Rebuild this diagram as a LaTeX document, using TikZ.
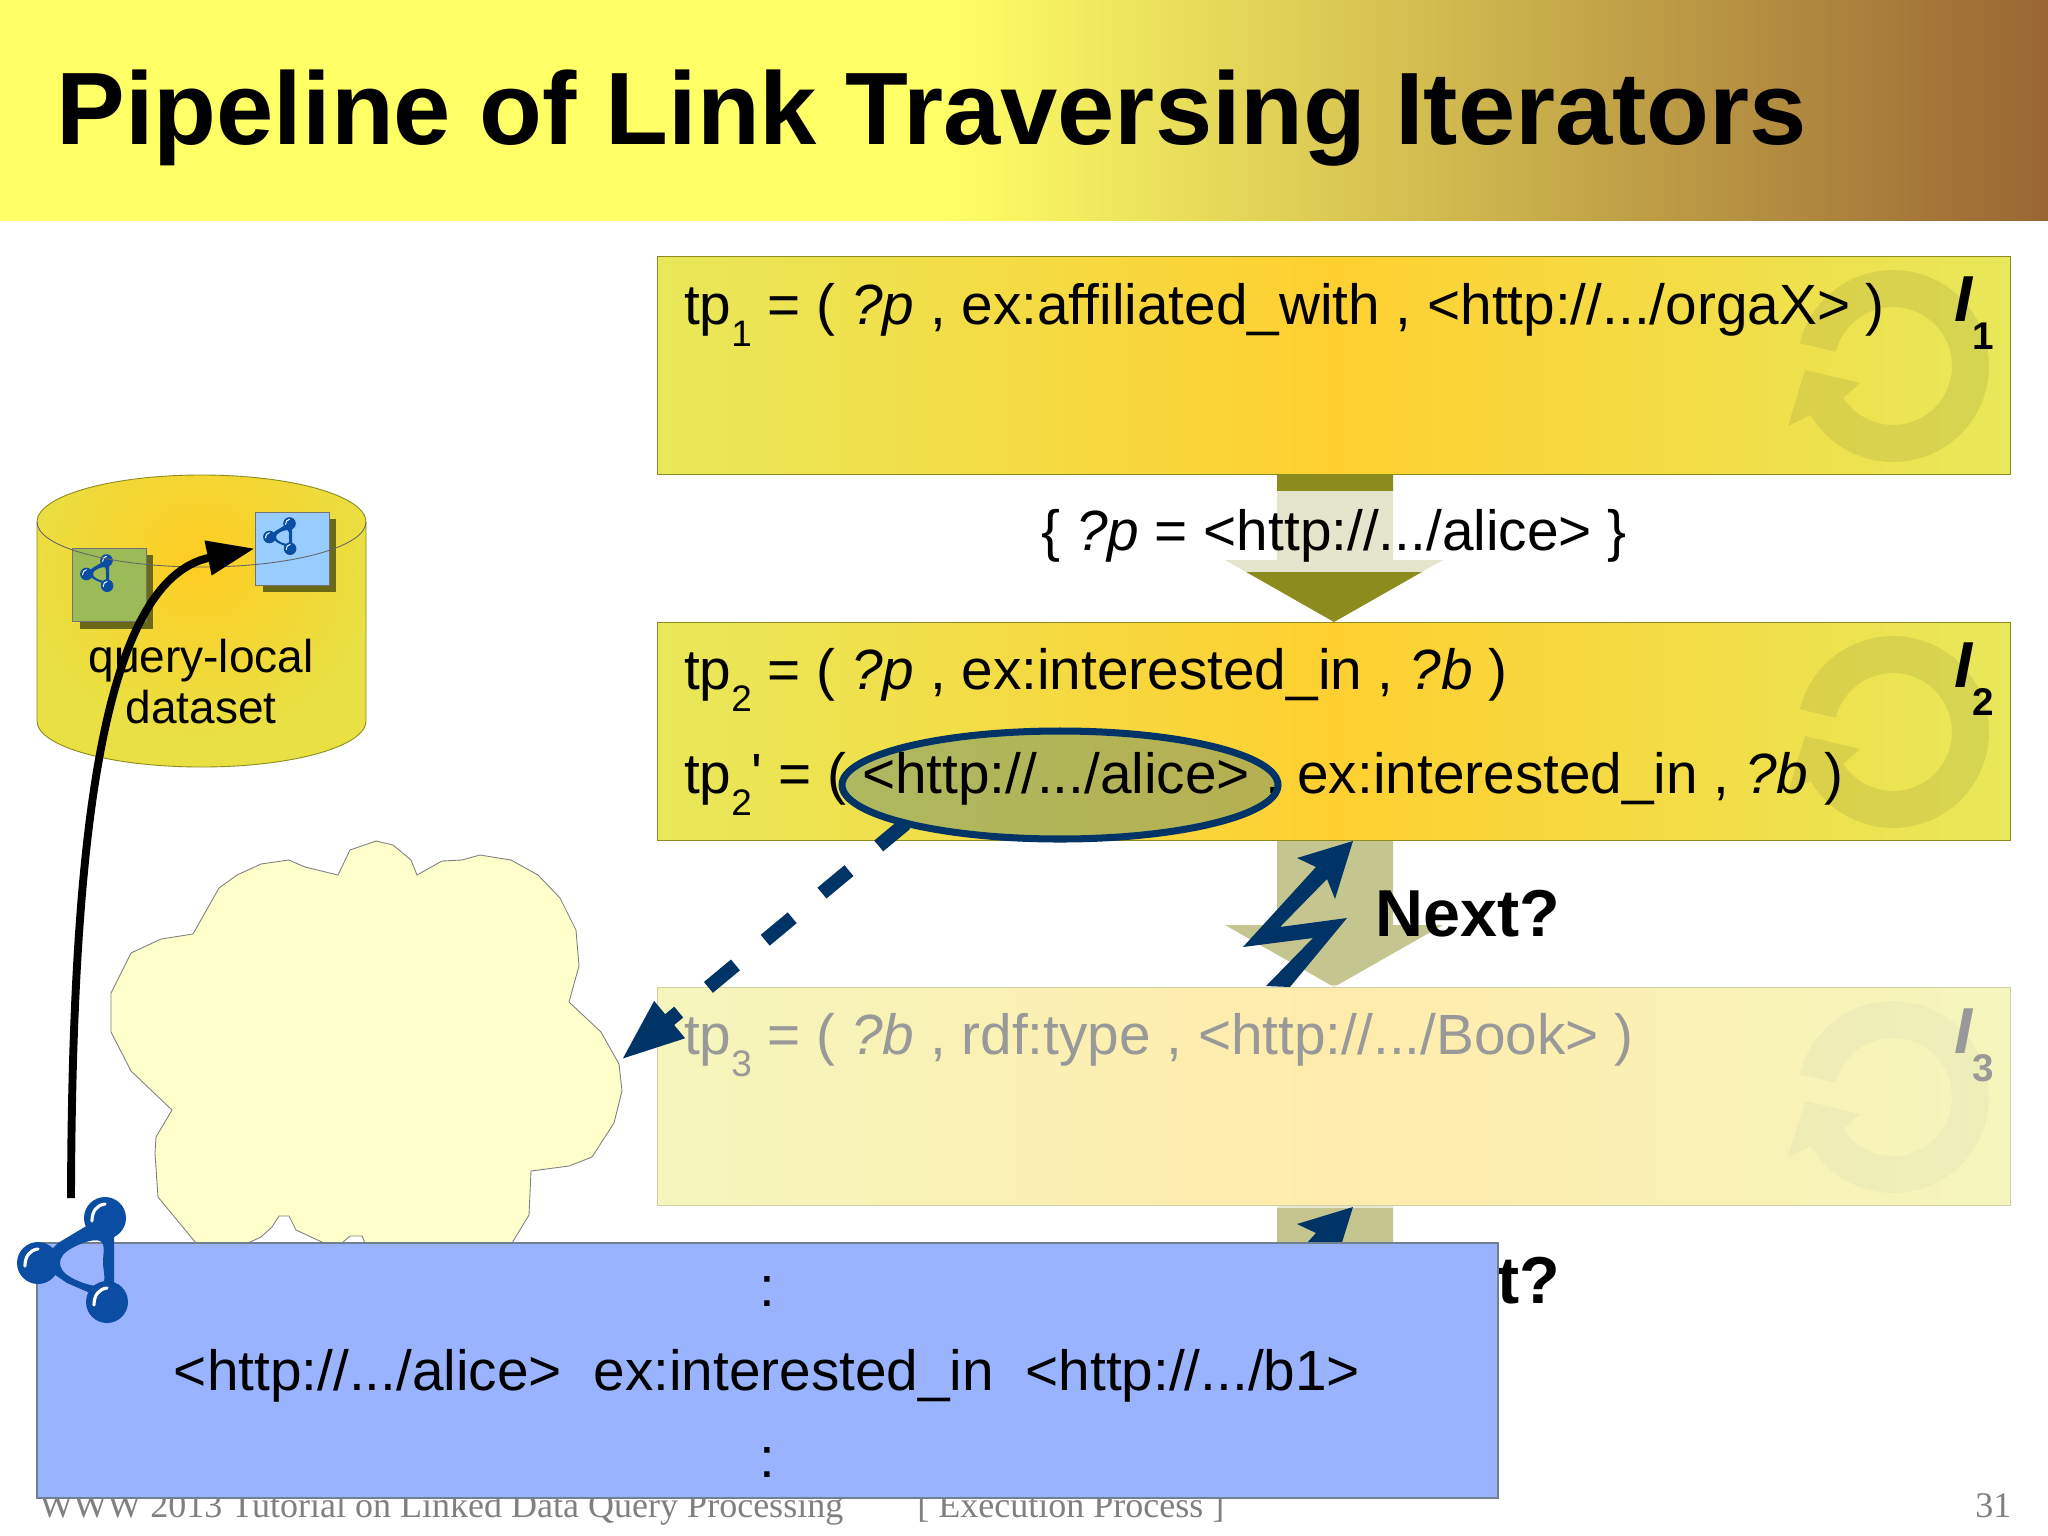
\documentclass[tikz,border=0pt]{standalone}
\usepackage{fontspec}
\usetikzlibrary{shapes.geometric,arrows.meta}
\newfontfamily\lsans{Liberation Sans}
\newfontfamily\lserif{Liberation Serif}
\definecolor{navy}{HTML}{003366}
\definecolor{iconblue}{HTML}{0B4DA2}
\definecolor{boxedge}{HTML}{E8E85A}
\definecolor{boxmid}{HTML}{FFD030}
\definecolor{cyledge}{HTML}{E9E044}
\definecolor{cylmid}{HTML}{FFCC22}
\definecolor{olivea}{HTML}{8B8B1E}
\definecolor{oliveb}{HTML}{C5C58F}
\definecolor{sheetblue}{HTML}{99B3FF}
\definecolor{titley}{HTML}{FFFF66}
\definecolor{titleb}{HTML}{996633}
\definecolor{loopgray}{HTML}{A0A040}
\definecolor{pagegreen}{HTML}{9BBB59}
\definecolor{pageblue}{HTML}{99CCFF}
\definecolor{ellfill}{HTML}{6F9070}
\definecolor{sheetline}{HTML}{708090}
\definecolor{cloudfill}{HTML}{FFFFCC}
\pgfdeclarehorizontalshading{titleshade}{100bp}{color(0bp)=(titley); color(25bp)=(titley); color(48bp)=(titley); color(75bp)=(titleb); color(100bp)=(titleb)}
\newcommand{\tpsub}[1]{\raisebox{-12.5pt}{\fontsize{21}{21}\selectfont #1}}
\newcommand{\itersub}[1]{{\fontsize{37}{40}\selectfont\bfseries\itshape I}\raisebox{-16.4pt}{\fontsize{22}{22}\selectfont\bfseries #1}}
% loop icon: #1,#2 centre
\newcommand{\loopicon}[2]{%
  \fill[looptint] plot[domain=193.7:509.2,samples=70] ({#1+96*cos(\x)},{#2+96*sin(\x)})
    -- ({#1-105},{#2+60}) -- ({#1-88},{#2+4}) -- ({#1-33},{#2+17}) -- ({#1-50},{#2+32})
    -- plot[domain=509.2:194,samples=70] ({#1+59*cos(\x)},{#2+59*sin(\x)}) -- cycle;}
% block arrow: #1 = top y, #2 = colour, #3 = tip y
\newcommand{\blockarrow}[3]{%
  \fill[#2] (1277,#1) -- (1393,#1) -- (1393,#3-62) -- (1443,#3-62) -- (1334,#3) -- (1225,#3-62) -- (1277,#3-62) -- cycle;}
% lightning bolt: #1 = y shift
\newcommand{\bolt}[1]{%
  \fill[navy] (1353,841+#1) -- (1297,858+#1) -- (1316,867+#1) -- (1243,947+#1) -- (1313,938+#1) -- (1266,986+#1) -- (1290,987+#1) -- (1347,918+#1) -- (1280,927+#1) -- (1327,879+#1) -- (1335,899+#1) -- cycle;}
% rdf icon: #1,#2 centre of hole, #3 scale
\newcommand{\rdficon}[3]{%
  \begin{scope}[shift={(#1,#2)},scale=#3]
    \fill[iconblue,even odd rule] (25,-45) -- (34,-30) -- (34,25) -- (27,39) -- (10,30) -- (-13,20) -- (-42,0) -- (-22,-20) -- (8,-38) -- cycle
      plot[smooth cycle,tension=0.7] coordinates {(-20,0) (-8,-15) (20,-22) (23,0) (21,22) (-8,15)};
    \fill[iconblue] (25,-45) circle (21) (-42,0) circle (21) (27,39) circle (21);
    \draw[white,line width=#3*1.8pt,line cap=round]
      (25-13,-45+3) .. controls (25-13,-45-7) and (25-8,-45-13) .. (25,-45-14)
      (-42-13,3) .. controls (-42-13,-7) and (-42-8,-13) .. (-42,-14)
      (27-13,39+3) .. controls (27-13,39-7) and (27-8,39-13) .. (27,39-14);
  \end{scope}}
\tikzset{
  x=0.02cm,y=-0.02cm,
  body/.style={anchor=base west,inner sep=0pt,outer sep=0pt,font=\lsans\fontsize{32.3}{38}\selectfont},
  bodyc/.style={anchor=base,inner sep=0pt,outer sep=0pt,font=\lsans\fontsize{32.3}{38}\selectfont},
  nextlabel/.style={anchor=base west,inner sep=0pt,font=\lsans\bfseries\fontsize{37.8}{42}\selectfont},
  iterlabel/.style={anchor=base west,inner sep=0pt,font=\lsans},
  foot/.style={anchor=base west,inner sep=0pt,text=gray,font=\lserif\fontsize{20.5}{24}\selectfont},
  boxbody/.style={draw=olivea,line width=0.55pt,left color=boxedge,right color=boxedge,middle color=boxmid,
    minimum width=1353*0.02cm,minimum height=218*0.02cm,inner sep=0pt},
  sheetpage/.style={draw=black!55,line width=0.5pt,minimum width=74*0.02cm,minimum height=73*0.02cm,inner sep=0pt},
  looptint/.style={fill=loopgray,fill opacity=0.25},
}
\begin{document}
\begin{tikzpicture}
\useasboundingbox (0,0) rectangle (2048,1535);
\fill[white] (0,0) rectangle (2048,1535);
% title band
\shade[shading=titleshade] (0,0) rectangle (2048,220);
\node[anchor=base west,inner sep=0pt,font=\lsans\bfseries\fontsize{58.6}{66}\selectfont] (title) at (56,144) {Pipeline of Link Traversing Iterators};
% footer (partly hidden by the sheet)
\node[foot] (footl) at (39,1517) {WWW 2013 Tutorial on Linked Data Query Processing};
\node[foot] (footm) at (917,1517) {[ Execution Process ]};
\node[foot] (footr) at (1975,1517) {31};
% cloud
\draw[fill=cloudfill,draw=black!50,line width=0.5pt,line join=round]
 (338,875) -- (350,850) -- (376,841) -- (393,845) -- (411,860) -- (417,875) -- (442,861) -- (462,860) -- (480,855) -- (511,860) -- (538,875) -- (560,898) -- (576,930) -- (579,966) -- (569,1002) -- (601,1032) -- (619,1064) -- (622,1091) -- (614,1123) -- (592,1157) -- (569,1166) -- (531,1171) -- (529,1215) -- (512,1243) -- (365,1243) -- (362,1236) -- (350,1236) -- (342,1243) -- (324,1243) -- (296,1230) -- (289,1216) -- (279,1216) -- (272,1227) -- (261,1237) -- (248,1243) -- (196,1243) -- (158,1197) -- (155,1153) -- (156,1137) -- (172,1110) -- (131,1071) -- (111,1032) -- (111,993) -- (131,953) -- (161,939) -- (193,934) -- (219,888) -- (237,875) -- (261,864) -- (289,860) -- (305,867) -- cycle;
% cylinder
\begin{scope}
  \path[clip] (37,522) arc[start angle=180,end angle=0,x radius=164.5,y radius=-47] -- (366,721) arc[start angle=0,end angle=-180,x radius=164.5,y radius=-46] -- cycle;
  \fill[cyledge] (30,470) rectangle (372,772);
  \shade[inner color=cylmid,outer color=cyledge] (200,560) circle (180);
\end{scope}
\draw[draw=olivea,line width=0.5pt] (37,522) arc[start angle=180,end angle=0,x radius=164.5,y radius=-47] -- (366,721) arc[start angle=0,end angle=-180,x radius=164.5,y radius=-46] -- cycle;
% sheets in the cylinder
\fill[olivea!75!black] (80,555) rectangle (153,629);
\node[sheetpage,fill=pagegreen] (greenpage) at (109.5,585) {};
\rdficon{99}{574}{0.3}
\fill[olivea!75!black] (263,519) rectangle (336,592);
\node[sheetpage,fill=pageblue] (bluepage) at (292,548.5) {};
\rdficon{282}{537}{0.3}
\draw[draw=black!60,line width=0.5pt] (37,522) arc[start angle=180,end angle=360,x radius=164.5,y radius=-45];
\node[bodyc,font=\lsans\fontsize{26.2}{30}\selectfont] (dsl1) at (201,672) {query-local};
\node[bodyc,font=\lsans\fontsize{26.2}{30}\selectfont] (dsl2) at (201,723) {dataset};
% block arrows
\blockarrow{474}{olivea}{622}
\blockarrow{840}{oliveb}{987}
\blockarrow{1206}{oliveb}{1353}
\fill[white,opacity=0.78] (1220,491) rectangle (1448,572);
% iterator boxes
\node[boxbody] (box1) at (1333.5,365) {};
\node[boxbody] (box2) at (1333.5,731) {};
\node[boxbody] (box3) at (1333.5,1096.5) {};
\loopicon{1893}{366}
\loopicon{1893}{732}
\loopicon{1893}{1097}
% highlighted ellipse: fill under the text, outline above it
\node[ellipse,fill=ellfill,fill opacity=0.5,minimum width=436*0.02cm,minimum height=108*0.02cm,inner sep=0pt] (ell) at (1060,785) {};
\node[body] (tp1) at (684,324.5) {tp\tpsub{1} = ( \textit{?p} , ex:affiliated\_with , <http://.../orgaX> )};
\node[iterlabel] (it1) at (1954,321) {\itersub{1}};
\node[body] (tp2) at (684,689.5) {tp\tpsub{2} = ( \textit{?p} , ex:interested\_in , \textit{?b} )};
\node[body] (tp2b) at (684,793.5) {tp\tpsub{2}' = ( <http://.../alice> , ex:interested\_in , \textit{?b} )};
\node[iterlabel] (it2) at (1954,687) {\itersub{2}};
\node[body] (tp3) at (684,1054.5) {tp\tpsub{3} = ( \textit{?b} , rdf:type , <http://.../Book> )};
\node[iterlabel] (it3) at (1954,1053) {\itersub{3}};
\fill[white,opacity=0.6] (655,985) rectangle (2012,1208);
\draw[navy,line width=4pt] (ell.center) ellipse [x radius=218,y radius=-54];
% binding label
\node[bodyc] (binding) at (1334,550) {\{ \textit{?p} = <http://.../alice> \}};
% lightning bolts
\bolt{0}
\bolt{366}
\node[nextlabel] (next1) at (1375,936) {Next?};
\node[nextlabel] (next2) at (1375,1303) {Next?};
% dashed link
\coordinate (cloudin) at (621,1060);
\draw[navy,line width=8pt,dash pattern=on 20pt off 22pt,-{Triangle[length=36pt,width=25pt]}] (ell.194) -- (cloudin);
% sheet with the triple
\node[draw=sheetline,line width=0.6pt,fill=sheetblue,minimum width=1461*0.02cm,minimum height=255*0.02cm,inner sep=0pt] (sheetbox) at (767.5,1370.5) {};
\node[bodyc] (dots1) at (767,1306) {:};
\node[bodyc] (triple) at (767,1390) {<http://.../alice>\ \ ex:interested\_in\ \ <http://.../b1>};
\node[bodyc] (dots2) at (767,1477) {:};
% retrieval arrow
\coordinate (iconout) at (71,1198);
\draw[black,line width=4.5pt,-{Triangle[length=27pt,width=19pt]}] (iconout) .. controls (72,850) and (100,580) .. (bluepage.west);
\rdficon{80}{1263}{1}
\end{tikzpicture}
\end{document}
